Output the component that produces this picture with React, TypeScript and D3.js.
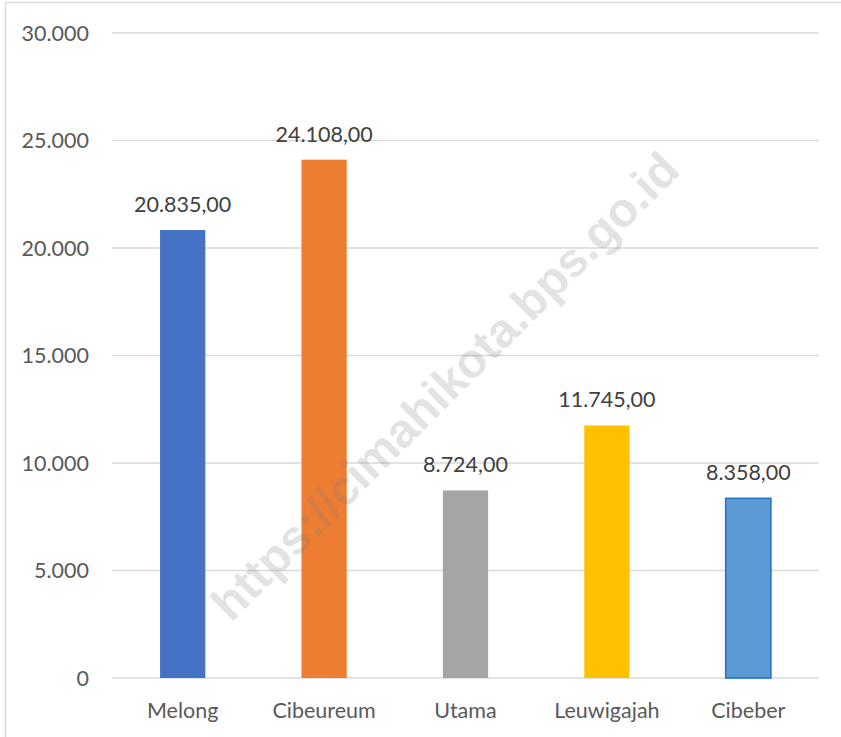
import React from "react";
import * as d3 from "d3";

const categories = ["Melong", "Cibeureum", "Utama", "Leuwigajah", "Cibeber"];
const values = [20835, 24108, 8724, 11745, 8358];
const colors = ["#4472C4", "#ED7D31", "#A5A5A5", "#FFC000", "#5B9BD5"];
const yTicks = [0, 5000, 10000, 15000, 20000, 25000, 30000];

const W = 841;
const H = 737;
const left = 112;
const right = 819;
const top = 33;
const bottom = 678;

const fmtThousands = (v: number) =>
  d3.format(",")(v).replace(/,/g, ".");
const fmtLabel = (v: number) =>
  d3.format(",.2f")(v).replace(/,/g, "#").replace(/\./g, ",").replace(/#/g, ".");

export default function App() {
  const x = d3.scaleBand<string>().domain(categories).range([left, right]).paddingInner(0.68).paddingOuter(0.34);
  const y = d3.scaleLinear().domain([0, 30000]).range([bottom, top]);
  const font = "Lato, 'Open Sans', sans-serif";
  const fs = 21.5;
  return (
    <svg width={W} height={H} style={{ position: "absolute", left: 0, top: 0, background: "#fff" }}>
      <rect x={5.5} y={2.5} width={W + 10} height={H + 10} fill="#fff" stroke="#d9d9d9" strokeWidth={1.5} />
      {yTicks.map((t) => (
        <g key={t}>
          <line x1={left} x2={right} y1={y(t)} y2={y(t)} stroke="#d9d9d9" strokeWidth={1.3} />
          <text x={89} y={y(t)} dy="0.35em" textAnchor="end" fontFamily={font} fontSize={fs} fill="#595959">
            {fmtThousands(t)}
          </text>
        </g>
      ))}
      {categories.map((c, i) => {
        const bx = x(c)!;
        const bw = x.bandwidth();
        const isLast = i === categories.length - 1;
        return (
          <g key={c}>
            <rect
              x={bx}
              y={y(values[i])}
              width={bw}
              height={bottom - y(values[i])}
              fill={colors[i]}
              stroke={isLast ? "#1F72C0" : "none"}
              strokeWidth={isLast ? 1.5 : 0}
            />
            <text x={bx + bw / 2} y={y(values[i]) - 18} textAnchor="middle" fontFamily={font} fontSize={fs} fill="#404040">
              {fmtLabel(values[i])}
            </text>
            <text x={bx + bw / 2} y={718} textAnchor="middle" fontFamily={font} fontSize={fs} fill="#595959">
              {c}
            </text>
          </g>
        );
      })}
      <text
        transform="translate(445,386) rotate(-45)"
        textAnchor="middle"
        dominantBaseline="central"
        fontFamily="'Liberation Sans', Arial, sans-serif"
        fontWeight="bold"
        fontSize={48}
        fill="#7f7f7f"
        fillOpacity={0.24}
      >
        https://cimahikota.bps.go.id
      </text>
    </svg>
  );
}
